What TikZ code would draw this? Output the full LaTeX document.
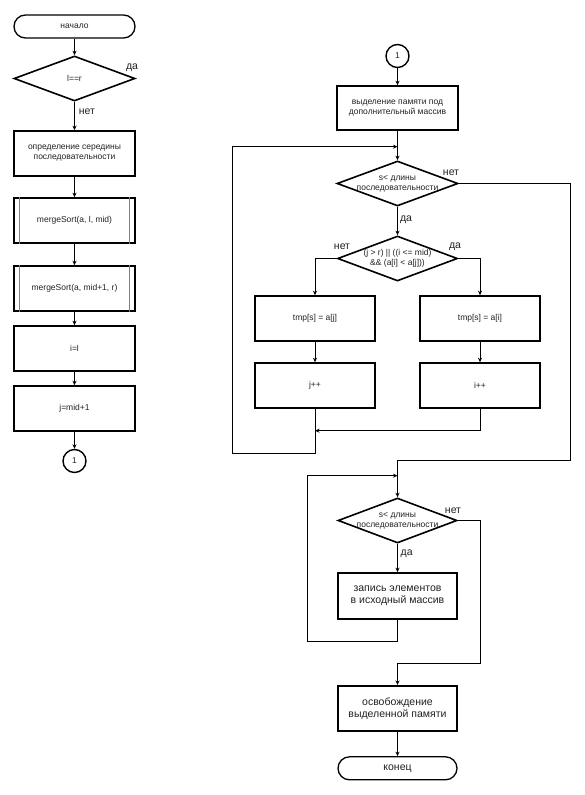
\documentclass[tikz,border=0pt]{standalone}
\usepackage{fontspec}
\setmainfont{Liberation Sans}
\usetikzlibrary{shapes.geometric,arrows.meta}
\definecolor{txt}{HTML}{222222}
\begin{document}
\begin{tikzpicture}[x=1pt,y=-1pt,
  every node/.style={text=txt, font=\fontsize{8.5}{10}\selectfont, align=center, inner sep=0pt},
  box/.style={draw=black, line width=1.6pt, minimum width=121pt, minimum height=45pt},
  term/.style={draw=black, line width=1.3pt, rounded corners=11.5pt, minimum width=121pt, minimum height=23pt},
  dec/.style={diamond, draw=black, line width=1.6pt, minimum width=121pt, minimum height=45pt},
  conn/.style={circle, draw=black, line width=1.4pt, minimum size=23pt},
  big/.style={font=\fontsize{10.5}{12}\selectfont},
  lbl/.style={font=\fontsize{10.5}{12}\selectfont},
  wire/.style={draw=black, line width=1pt},
  warr/.style={wire, -{Stealth[length=4.5pt,width=4pt]}},
  subline/.style={draw=gray, line width=1.2pt},
]
\fill[white] (0,0) rectangle (585,795);
\useasboundingbox (0,0) rectangle (585,795);

% left column
\node[term] (start) at (74.5,26.5) {начало};
\node[dec] (d0) at (74.5,78.5) {};
\node (d0t) at (d0) {l==r};
\node[box] (b1) at (74.5,153.5) {определение середины\\последовательности};
\node[box] (ms1) at (74.5,220.5) {mergeSort(a, l, mid)};
\node[box] (ms2) at (74.5,288.5) {mergeSort(a, mid+1, r)};
\node[box] (b3) at (74.5,348.5) {i=l};
\node[box] (b4) at (74.5,408.5) {j=mid+1};
\node[conn] (c1) at (74.5,461) {1};

\draw[subline] ([xshift=6.5pt]ms1.north west) -- ([xshift=6.5pt]ms1.south west);
\draw[subline] ([xshift=-6.5pt]ms1.north east) -- ([xshift=-6.5pt]ms1.south east);
\draw[subline] ([xshift=6.5pt]ms2.north west) -- ([xshift=6.5pt]ms2.south west);
\draw[subline] ([xshift=-6.5pt]ms2.north east) -- ([xshift=-6.5pt]ms2.south east);

\draw[warr] (start) -- (d0);
\draw[warr] (d0) -- (b1);
\draw[warr] (b1) -- (ms1);
\draw[warr] (ms1) -- (ms2);
\draw[warr] (ms2) -- (b3);
\draw[warr] (b3) -- (b4);
\draw[warr] (b4) -- (c1);
\node[lbl] (d0yes) at (132,67.5) {да};
\node[lbl] (d0no) at (87,112) {нет};

% right column
\node[conn] (c2) at (397.5,56) {1};
\node[box, minimum height=44pt] (r1) at (397.5,108) {выделение памяти под\\дополнительный массив};
\node[dec] (d1) at (397.5,183.5) {};
\node (d1t) at (d1) {s< длины\\последовательности};
\node[dec, minimum width=120pt] (d2) at (397.5,258.5) {};
\node (d2t) at (d2) {(j > r) || ((i <= mid)\\\&\& (a[i] < a[j]))};
\node[box, minimum width=120pt] (bj) at (315,318.5) {tmp[s] = a[j]};
\node[box, minimum width=120pt] (bi) at (480,318.5) {tmp[s] = a[i]};
\node[box, minimum width=120pt] (jpp) at (315,385.5) {j++};
\node[box, minimum width=120pt] (ipp) at (480,385.5) {i++};
\node[dec, minimum width=119pt] (d3) at (397.5,520.5) {};
\node (d3t) at (d3) {s< длины\\последовательности};
\node[box, big, minimum width=119pt, minimum height=46pt] (r2) at (397.5,596) {запись элементов\\в исходный массив};
\node[box, big, minimum width=119pt] (r3) at (397.5,708.3) {освобождение\\выделенной памяти};
\node[term, big, minimum width=119pt] (stop) at (397.5,768.3) {конец};

\coordinate (j1) at (397.5,146.7);
\coordinate (j2) at (315,430.7);
\coordinate (l1) at (232.7,453);
\coordinate (n1) at (570,460);
\coordinate (j3) at (397.5,475.7);
\coordinate (l2) at (307,641);
\coordinate (n2) at (480,663.3);

\draw[warr] (c2) -- (r1);
\draw[warr] (r1) -- (d1);
\draw[warr] (d1) -- (d2);
\draw[warr] (d2.west) -| (bj.north);
\draw[warr] (d2.east) -| (bi.north);
\draw[warr] (bj) -- (jpp);
\draw[warr] (bi) -- (ipp);
\draw[warr] (ipp.south) |- (j2);
\draw[warr] (jpp.south) |- (l1) |- (j1);
\draw[warr] (d1.east) -| (n1) -| (d3.north);
\draw[warr] (d3) -- (r2);
\draw[warr] (r2.south) |- (l2) |- (j3);
\draw[warr] (d3.east) -| (n2) -| (r3.north);
\draw[warr] (r3) -- (stop);

\node[lbl] (d1no) at (451,173) {нет};
\node[lbl] (d1yes) at (406,220) {да};
\node[lbl] (d2no) at (342,247) {нет};
\node[lbl] (d2yes) at (455,247) {да};
\node[lbl] (d3no) at (453,510.7) {нет};
\node[lbl] (d3yes) at (406.7,554) {да};
\end{tikzpicture}
\end{document}
